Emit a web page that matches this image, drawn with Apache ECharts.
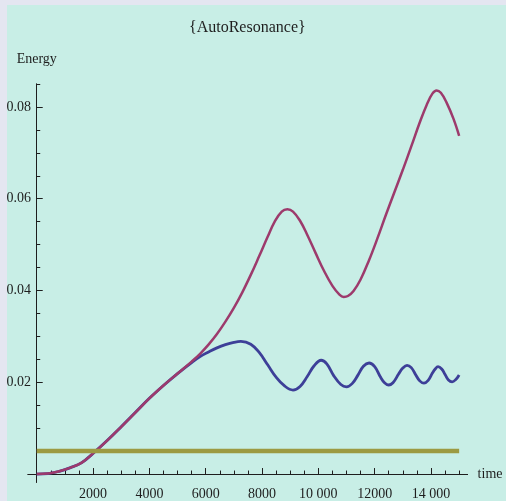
<!DOCTYPE html>
<html>
<head>
<meta charset="utf-8">
<script src="https://cdn.jsdelivr.net/npm/echarts@6/dist/echarts.min.js"></script>
<style>
  html, body { margin: 0; padding: 0; background: #e4e6f1; }
  #chart { width: 506px; height: 501px; }
</style>
</head>
<body>
<div id="chart"></div>
<script>
// Energy growth shared by both runs before they separate
const sharedTime   = [0, 400, 800, 1200, 1600, 2000, 2500, 3000, 3500, 4000, 4500, 5000];
const sharedEnergy = [0, 0.0001, 0.0006, 0.0014, 0.0025, 0.0045, 0.0073, 0.0103, 0.0134, 0.0165, 0.0193, 0.0219];

// Upper (purple) run after separation
const upperTime   = [5500, 5800, 6100, 6400, 6700, 7000, 7300, 7600, 7900, 8200, 8450, 8700, 8900, 9100, 9350, 9600, 9900, 10200, 10500, 10750, 10900, 11050, 11250, 11500, 11800, 12100, 12400, 12700, 13000, 13300, 13600, 13850, 14050, 14200, 14350, 14550, 14800, 15000];
const upperEnergy = [0.0245, 0.0262, 0.0282, 0.0305, 0.0332, 0.0362, 0.0396, 0.0434, 0.0475, 0.0517, 0.0550, 0.0572, 0.0577, 0.0572, 0.0552, 0.0522, 0.0482, 0.0443, 0.0410, 0.0391, 0.0386, 0.0388, 0.0399, 0.0424, 0.0466, 0.0514, 0.0565, 0.0614, 0.0663, 0.0714, 0.0766, 0.0805, 0.0829, 0.0836, 0.0831, 0.0810, 0.0774, 0.0737];

// Lower (blue) run after separation
const lowerTime   = [5500, 5800, 6100, 6400, 6700, 7000, 7250, 7600, 7900, 8200, 8500, 8800, 9100, 9350, 9600, 9850, 10100, 10300, 10550, 10800, 11000, 11200, 11400, 11600, 11800, 12000, 12200, 12350, 12500, 12650, 12850, 13000, 13150, 13300, 13450, 13600, 13750, 13900, 14050, 14150, 14250, 14380, 14500, 14620, 14750, 14880, 15000];
const lowerEnergy = [0.0243, 0.0256, 0.0266, 0.0275, 0.0282, 0.0287, 0.0289, 0.0283, 0.0265, 0.0238, 0.0211, 0.0192, 0.0183, 0.0191, 0.0212, 0.0236, 0.0248, 0.0240, 0.0214, 0.0195, 0.0190, 0.0197, 0.0215, 0.0235, 0.0242, 0.0234, 0.0212, 0.0199, 0.0194, 0.0199, 0.0218, 0.0231, 0.0237, 0.0232, 0.0217, 0.0203, 0.0198, 0.0204, 0.0220, 0.0229, 0.0234, 0.0229, 0.0217, 0.0205, 0.0201, 0.0206, 0.0216];

// Constant reference level
const levelTime   = [0, 15000];
const levelEnergy = [0.005, 0.005];

// Axis ticks and labels
const xMajorTicks  = [2000, 4000, 6000, 8000, 10000, 12000, 14000];
const xTickLabels  = ['2000', '4000', '6000', '8000', '10 000', '12000', '14 000'];
const xMinorTicks  = [500, 1000, 1500, 2500, 3000, 3500, 4500, 5000, 5500, 6500, 7000, 7500, 8500, 9000, 9500, 10500, 11000, 11500, 12500, 13000, 13500, 14500, 15000];
const yMajorTicks  = [0.02, 0.04, 0.06, 0.08];
const yTickLabels  = ['0.02', '0.04', '0.06', '0.08'];
const yMinorTicks  = [0.005, 0.01, 0.015, 0.025, 0.03, 0.035, 0.045, 0.05, 0.055, 0.065, 0.07, 0.075, 0.085];

const pairs = (xs, ys) => xs.map((x, i) => [x, ys[i]]);
const upperData = pairs(sharedTime, sharedEnergy).concat(pairs(upperTime, upperEnergy));
const lowerData = pairs(sharedTime, sharedEnergy).concat(pairs(lowerTime, lowerEnergy));
const levelData = pairs(levelTime, levelEnergy);

const FONT = 'Liberation Serif';
const INK = '#1e1e1e';
const X_MIN = -310, X_MAX = 15300;
const Y_MIN = -0.0018, Y_MAX = 0.085;

const chart = echarts.init(document.getElementById('chart'), null, { renderer: 'canvas' });

const baseX = {
  type: 'value', min: X_MIN, max: X_MAX, position: 'bottom',
  axisLine: { show: true, onZero: true, onZeroAxisIndex: 0, lineStyle: { color: INK, width: 1 } },
  splitLine: { show: false }
};
const baseY = {
  type: 'value', min: Y_MIN, max: Y_MAX, position: 'left',
  axisLine: { show: true, onZero: true, onZeroAxisIndex: 0, lineStyle: { color: INK, width: 1 } },
  splitLine: { show: false }
};

chart.setOption({
  backgroundColor: '#e4e6f1',
  animation: false,
  graphic: [{
    type: 'rect', z: -10, silent: true,
    shape: { x: 7, y: 5, width: 499, height: 496 },
    style: { fill: '#c8eee6' }
  }],
  title: {
    text: '{AutoResonance}',
    left: 184, top: 15,
    textStyle: { fontFamily: FONT, fontSize: 16, fontWeight: 'normal', color: INK }
  },
  grid: { left: 28, right: 38.4, top: 84, bottom: 18.7, containLabel: false, outerBoundsMode: 'none' },
  xAxis: [
    Object.assign({}, baseX, {
      name: 'time', nameLocation: 'end', nameGap: 10,
      nameTextStyle: { fontFamily: FONT, fontSize: 14, color: INK },
      axisTick: { show: true, inside: true, length: 6, customValues: xMajorTicks, lineStyle: { color: INK } },
      axisLabel: {
        show: true, customValues: xMajorTicks, margin: 5,
        fontFamily: FONT, fontSize: 14, color: INK,
        formatter: v => xTickLabels[xMajorTicks.indexOf(v)] || ''
      }
    }),
    Object.assign({}, baseX, {
      axisTick: { show: true, inside: true, length: 3.5, customValues: xMinorTicks, lineStyle: { color: INK } },
      axisLabel: { show: false }
    })
  ],
  yAxis: [
    Object.assign({}, baseY, {
      name: 'Energy', nameLocation: 'end', nameGap: 18,
      nameTextStyle: { fontFamily: FONT, fontSize: 14, color: INK, align: 'center' },
      axisTick: { show: true, inside: true, length: 6, customValues: yMajorTicks, lineStyle: { color: INK } },
      axisLabel: {
        show: true, customValues: yMajorTicks, margin: -3,
        fontFamily: FONT, fontSize: 14, color: INK,
        formatter: v => yTickLabels[yMajorTicks.indexOf(v)] || ''
      }
    }),
    Object.assign({}, baseY, {
      axisTick: { show: true, inside: true, length: 3.5, customValues: yMinorTicks, lineStyle: { color: INK } },
      axisLabel: { show: false }
    })
  ],
  series: [
    {
      name: 'lower', type: 'line', data: lowerData, xAxisIndex: 0, yAxisIndex: 0,
      showSymbol: false, smooth: 0.4, clip: false,
      lineStyle: { color: '#3d3f98', width: 2.8 }, z: 2
    },
    {
      name: 'upper', type: 'line', data: upperData, xAxisIndex: 0, yAxisIndex: 0,
      showSymbol: false, smooth: 0.4, clip: false,
      lineStyle: { color: '#9d3a6c', width: 2.5 }, z: 3
    },
    {
      name: 'level', type: 'line', data: levelData, xAxisIndex: 0, yAxisIndex: 0,
      showSymbol: false, clip: false,
      lineStyle: { color: '#9c9a42', width: 4.5 }, z: 4
    }
  ]
});
</script>
</body>
</html>
